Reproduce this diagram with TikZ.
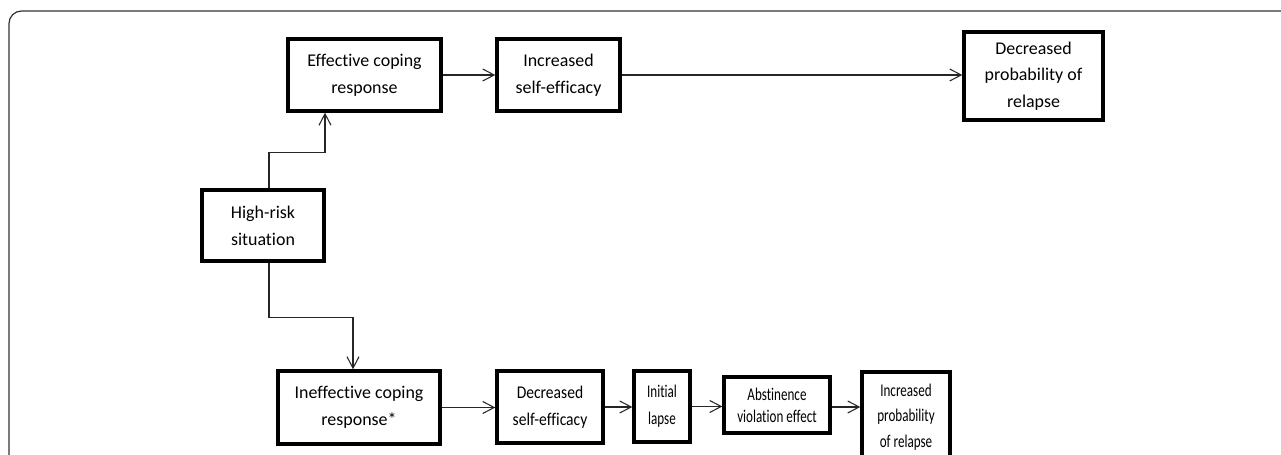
\documentclass[tikz,border=0pt]{standalone}
\usepackage{fontspec}
\setmainfont{Carlito}[Ligatures=NoCommon]
\newfontfamily\narrowfont{Carlito}[Ligatures=NoCommon, FakeStretch=0.87]
\newfontfamily\tightfont{Carlito}[Ligatures=NoCommon, FakeStretch=0.73]
\usepackage{tikz}
\usetikzlibrary{positioning,calc,arrows.meta}

\begin{document}
\begin{tikzpicture}[
        x=0.02cm, y=-0.02cm,
        % --- STYLE ---
        stepbox/.style={
            draw=black,
            fill=white,
            line width=1.9pt,
            inner sep=0pt,
            align=center,
            font=\fontsize{10.2}{15.2}\selectfont
        },
        arr/.style={
            draw=black!85,
            line width=0.6pt,
            -{Straight Barb[length=2.3mm, width=2.4mm, line width=0.6pt]}
        },
        frame/.style={
            draw=black!80,
            line width=0.7pt,
            rounded corners=0.25cm
        }
    ]

        \useasboundingbox (0,0) rectangle (1281,455);
        \clip (0,0) rectangle (1281,455);

        % --- KHUNG ---
        \draw[frame] (9,470) -- (9,11) -- (1300,11);

        % --- HANG TREN ---
        \node[stepbox, minimum width=153*0.02cm, minimum height=72*0.02cm] (eff) at (364.5,75) {Effective coping\\response};
        \node[stepbox, minimum width=123*0.02cm, minimum height=72*0.02cm] (incSE) at (558.5,75) {Increased\\self-efficacy};
        \node[stepbox, minimum width=139*0.02cm, minimum height=88*0.02cm] (decProb) at (1033.5,76) {Decreased\\probability of\\relapse};

        % --- NUT GOC ---
        \node[stepbox, minimum width=122*0.02cm, minimum height=71*0.02cm] (high) at (263,225.5) {High-risk\\situation};

        % --- HANG DUOI ---
        \node[stepbox, minimum width=162*0.02cm, minimum height=73*0.02cm] (ineff) at (359,407.5) {Ineffective coping\\response*};
        \node[stepbox, minimum width=106*0.02cm, minimum height=72*0.02cm,
            font=\narrowfont\fontsize{10.2}{15.2}\selectfont] (decSE) at (550,407) {Decreased\\self-efficacy};
        \node[stepbox, minimum width=56*0.02cm, minimum height=71*0.02cm,
            font=\tightfont\fontsize{10.2}{15.2}\selectfont] (lapse) at (662,406.5) {Initial\\lapse};
        \node[stepbox, minimum width=106*0.02cm, minimum height=56*0.02cm,
            font=\tightfont\fontsize{10.2}{12.4}\selectfont] (abst) at (777,405) {Abstinence\\violation effect};
        \node[stepbox, minimum width=88*0.02cm, minimum height=90*0.02cm,
            font=\tightfont\fontsize{10.2}{14.6}\selectfont] (incProb) at (906,417) {Increased\\probability\\of relapse};

        % --- MUI TEN ---
        \draw[arr] ($(high.north)+(6,0)$) |- ++(56,-36) -- ($(eff.south)+(-39.5,0)$);
        \draw[arr] ($(high.south)+(6,0)$) |- ++(84,55) -- ($(ineff.north)+(-6,0)$);

        \draw[arr] (eff.east) -- (incSE.west);
        \draw[arr] (incSE.east) -- (incSE.east -| decProb.west);

        \draw[arr] (ineff.east) -- (ineff.east -| decSE.west);
        \draw[arr] (decSE.east) -- (decSE.east -| lapse.west);
        \draw[arr] (lapse.east) -- (lapse.east -| abst.west);
        \draw[arr] ($(abst.east)+(0,2)$) -- ($(abst.east -| incProb.west)+(0,2)$);

    \end{tikzpicture}
\end{document}
